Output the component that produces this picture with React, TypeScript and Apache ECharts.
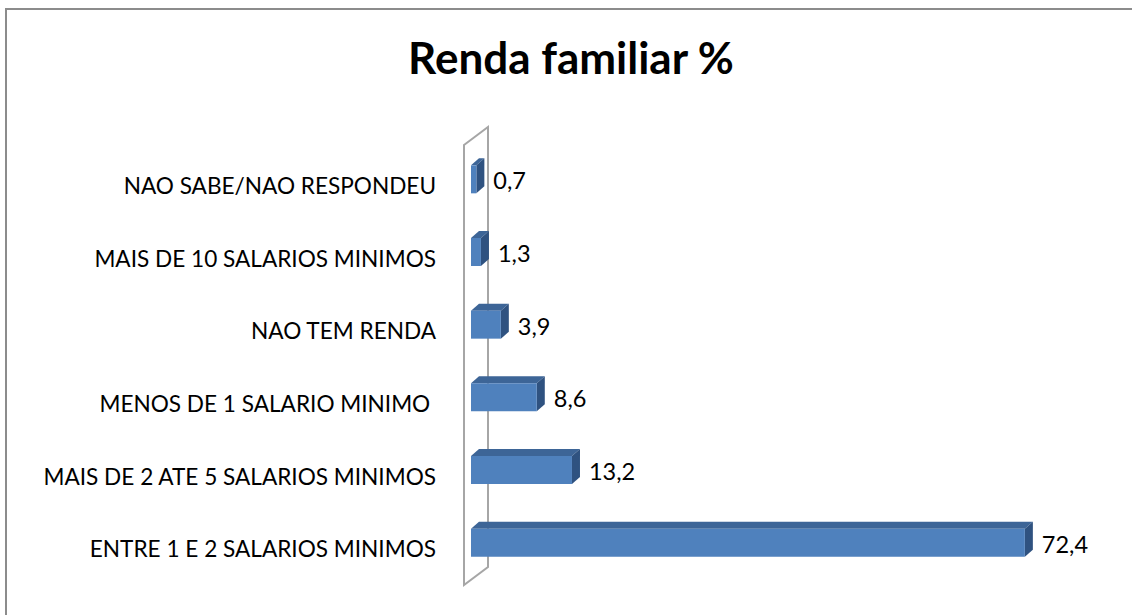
import React, { useEffect, useRef } from "react";
import * as echarts from "echarts";

// Data (bottom to top)
const categories = [
  "ENTRE 1 E 2 SALARIOS MINIMOS",
  "MAIS DE 2 ATE 5 SALARIOS MINIMOS",
  "MENOS DE 1 SALARIO MINIMO ",
  "NAO TEM RENDA",
  "MAIS DE 10 SALARIOS MINIMOS",
  "NAO SABE/NAO RESPONDEU",
];
const values = [72.4, 13.2, 8.6, 3.9, 1.3, 0.7];
const titleText = "Renda familiar %";

const FONT = "Lato, 'Open Sans', sans-serif";
const FRONT = "#4F81BD";
const TOP = "#3D6597";
const SIDE = "#2F5280";

const fmt = (v: number) => v.toFixed(1).replace(".", ",");

export default function App() {
  const ref = useRef<HTMLDivElement>(null);
  useEffect(() => {
    if (!ref.current) return;
    document.documentElement.style.overflow = "hidden";
    document.body.style.margin = "0";
    document.body.style.overflow = "hidden";
    const chart = echarts.init(ref.current, undefined, { renderer: "svg" });
    chart.setOption({
      animation: false,
      backgroundColor: "#ffffff",
      title: {
        text: titleText,
        left: 566,
        top: 30,
        textAlign: "center",
        textStyle: { fontFamily: FONT, fontWeight: "bold", fontSize: 44, color: "#000" },
      },
      graphic: [
        {
          type: "polyline",
          z: 0,
          shape: { points: [[6, 640], [6, 9], [1160, 9]] },
          style: { fill: "none", stroke: "#8c8c8c", lineWidth: 2 },
        },
        {
          type: "polygon",
          z: 0,
          shape: { points: [[464, 145], [488, 127], [488, 567], [464, 585]] },
          style: { fill: "none", stroke: "#a6a6a6", lineWidth: 2 },
        },
      ],
      grid: { left: 471, right: 49, top: 149, bottom: 30 },
      xAxis: { type: "value", min: 0, max: 80, show: false },
      yAxis: {
        type: "category",
        data: categories,
        axisLine: { show: false },
        axisTick: { show: false },
        splitLine: { show: false },
        axisLabel: { margin: 35, fontFamily: FONT, fontSize: 22.6, color: "#000" },
      },
      series: [
        {
          type: "custom",
          z: 5,
          data: values.map((v, i) => [v, i]),
          encode: { x: 0, y: 1 },
          renderItem: (params: any, api: any) => {
            const v = api.value(0);
            const c = api.value(1);
            const p0 = api.coord([0, c]);
            const p1 = api.coord([v, c]);
            const band = api.size([0, 1])[1];
            const h = band * 0.385;
            const yc = p0[1] - 6;
            const yt = yc - h / 2;
            const yb = yc + h / 2;
            const dx = 8;
            const dy = -7;
            const x0 = p0[0];
            const x1 = p1[0];
            return {
              type: "group",
              children: [
                {
                  type: "polygon",
                  shape: { points: [[x0, yt], [x0 + dx, yt + dy], [x1 + dx, yt + dy], [x1, yt]] },
                  style: { fill: TOP },
                },
                {
                  type: "polygon",
                  shape: { points: [[x1, yt], [x1 + dx, yt + dy], [x1 + dx, yb + dy], [x1, yb]] },
                  style: { fill: SIDE },
                },
                {
                  type: "rect",
                  shape: { x: x0, y: yt, width: x1 - x0, height: h },
                  style: { fill: FRONT },
                },
                {
                  type: "text",
                  style: {
                    text: fmt(v),
                    x: x1 + dx + 9,
                    y: yc + 1,
                    verticalAlign: "middle",
                    align: "left",
                    fontFamily: FONT,
                    fontSize: 23.5,
                    fill: "#000",
                  },
                },
              ],
            };
          },
        },
      ],
    });
    return () => chart.dispose();
  }, []);
  return (
    <div
      ref={ref}
      style={{ position: "absolute", left: 0, top: 0, width: 1132, height: 615 }}
    />
  );
}
